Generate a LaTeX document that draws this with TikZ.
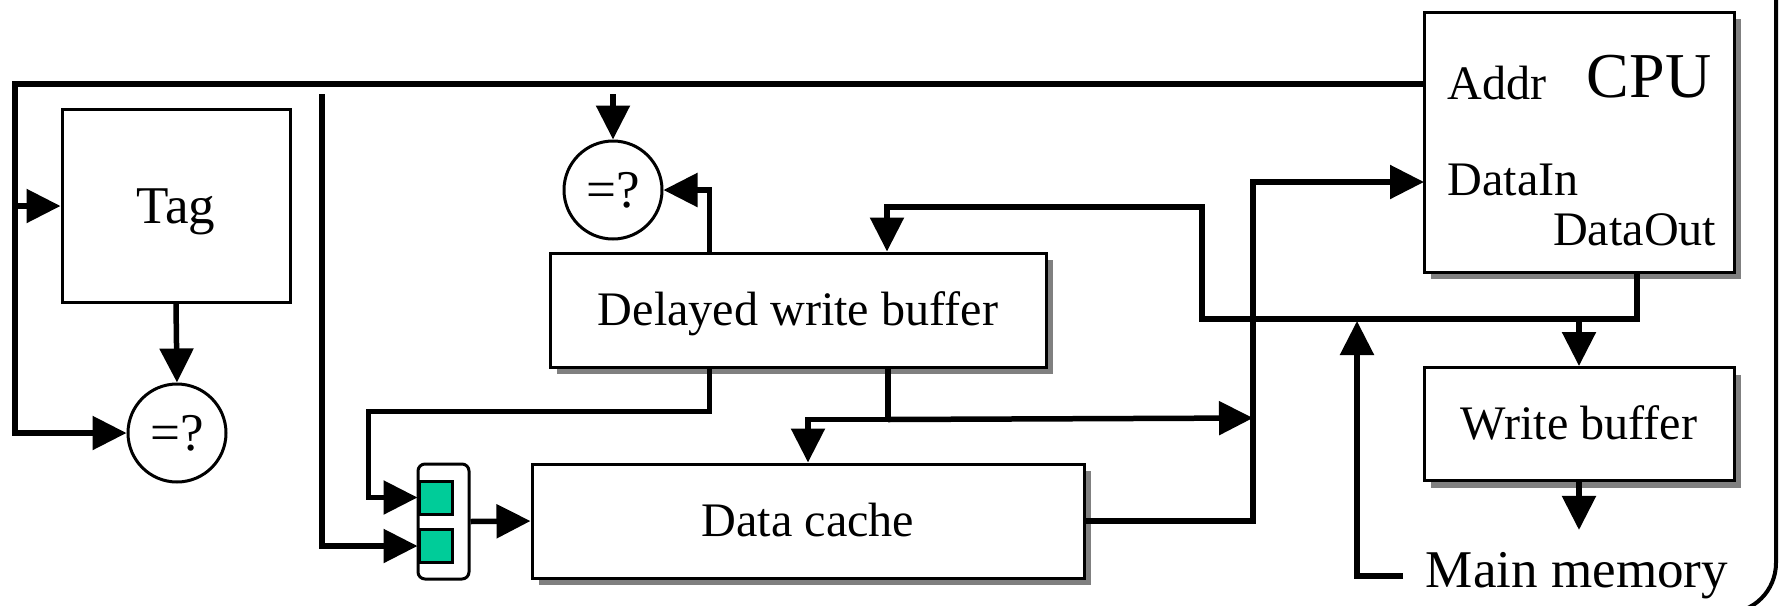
\documentclass[tikz,border=0pt]{standalone}
\usepackage{fontspec}
\setmainfont{Liberation Serif}
\usepackage{tikz}
\usetikzlibrary{calc,arrows.meta,shadows}

\definecolor{selgreen}{RGB}{0,204,153}

\begin{document}
\begin{tikzpicture}[x=0.1mm, y=-0.1mm, line width=0.55mm,
		>={Triangle[length=3.4mm,width=3.3mm]},
		font=\fontsize{13.7}{16}\selectfont,
		unit/.style={draw, fill=white, line width=0.3mm, inner sep=0pt,
			text height=9pt, text depth=0pt},
		shaded/.style={drop shadow={shadow xshift=0.7mm, shadow yshift=-0.7mm,
			fill=black!50, opacity=1}},
		big/.style={font=\fontsize{15.1}{18}\selectfont, text height=10pt},
		cmp/.style={draw, circle, fill=white, line width=0.3mm, minimum size=9.8mm,
			inner sep=0pt, text depth=0pt, big},
		sel/.style={draw, fill=selgreen, line width=0.3mm, minimum size=3.3mm, inner sep=0pt}]
	\useasboundingbox (0,0) rectangle (1781,605);
	\clip (0,0) rectangle (1781,605);

	% blocks
	\node[unit, big, minimum width=22.8mm, minimum height=19.3mm] (tag) at (176,206) {Tag};
	\node[cmp] (eqlow) at (177,433) {=?};
	\node[cmp] (eqtop) at (613,190) {=?};
	\node[unit, shaded, minimum width=49.6mm, minimum height=11.4mm] (dwb) at (798,310) {Delayed write buffer};
	\node[unit, shaded, minimum width=55.2mm, minimum height=11.4mm] (dcache) at (808,521) {Data cache};
	\node[unit, shaded, minimum width=31mm, minimum height=26mm] (cpu) at (1579,142) {};
	\node[unit, shaded, minimum width=31mm, minimum height=11.3mm] (wbuf) at (1579,424) {Write buffer};
	\node[draw, rounded corners=0.7mm, line width=0.3mm, minimum width=5.1mm, minimum height=11.5mm] (mux) at (443.5,521.5) {};
	\node[sel] (selA) at (435.5,497.5) {};
	\node[sel] (selB) at (435.5,546) {};
	\node[inner sep=2mm, font=\fontsize{15.1}{18}\selectfont] (mem) at (1577,576) {Main memory};

	% cpu ports
	\node[anchor=base, inner sep=0pt, font=\fontsize{18.2}{20}\selectfont] (cpulbl) at (1649,97) {CPU};
	\node[anchor=base west, inner sep=0pt] (addrlbl) at (1445,99) {Addr};
	\node[anchor=base west, inner sep=0pt] (dinlbl) at (1445,195) {DataIn};
	\node[anchor=base east, inner sep=0pt] (doutlbl) at (1719,245) {DataOut};

	% address lines
	\coordinate (addr) at (1424,84);
	\coordinate (abus) at (15,84);
	\draw[->] (addr) -- (abus) |- (eqlow.west);
	\draw[->] (abus |- tag.west) -- (tag.west);
	\draw[->] (tag.south) -- (eqlow.north);
	\coordinate (idx) at (322,94);
	\draw[->] (idx) |- (selB.west);
	\coordinate (cmpin) at (613,94);
	\draw[->] (cmpin) -- (eqtop.north);

	% delayed write buffer
	\draw[->] ($(dwb.north west)+(161,0)$) |- (eqtop.east);
	\draw[->] ($(dwb.south west)+(161,0)$) -- ++(0,43) -- ++(-341,0) |- (selA.west);
	\coordinate (dwbfork) at ($(dwb.south)+(90,51)$);
	\draw ($(dwb.south)+(90,0)$) -- (dwbfork);
	\draw[->] (dwbfork) -| (dcache.north);
	\coordinate (bus) at (1253,418);
	\draw[->] (dwbfork) -- (bus);
	\draw[->] (mux.east) -- (dcache.west);

	% data in
	\coordinate (datain) at (1424,182);
	\draw[->] (dcache.east) -| (bus) |- (datain);

	% data out
	\coordinate (dout) at ($(cpu.south)+(58,0)$);
	\coordinate (wbfork) at (1579,319);
	\draw (dout) |- (wbfork);
	\draw[->] (wbfork) -- (wbuf.north);
	\coordinate (fb) at (1202,207);
	\draw[->] (wbfork) -| (fb) -| ($(dwb.north)+(89,0)$);

	% main memory
	\coordinate (memtap) at (1357,321);
	\draw[->] (mem.west) -| (memtap);
	\draw[->] (wbuf.south) -- (wbuf.south |- mem.north);

	\draw[line width=0.4mm, rounded corners=5mm] (1776,-10) -- (1776,613) -- (1500,613);
\end{tikzpicture}
\end{document}
